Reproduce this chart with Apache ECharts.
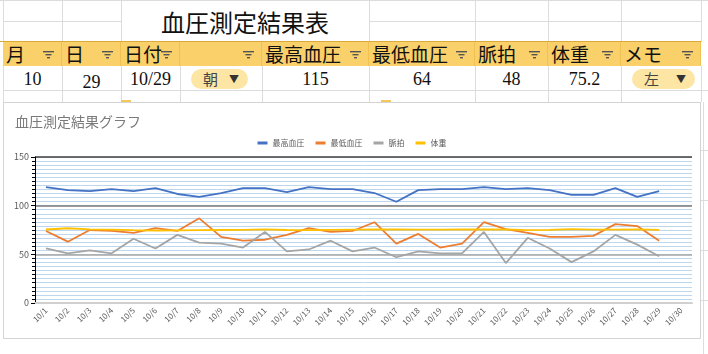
<!DOCTYPE html>
<html>
<head>
<meta charset="utf-8">
<title>血圧測定結果グラフ</title>
<script src="https://cdn.jsdelivr.net/npm/echarts@6/dist/echarts.min.js"></script>
<style>
  body { margin:0; width:708px; height:354px; overflow:hidden; background:#fff; position:relative;
         font-family:"Noto Sans CJK JP", sans-serif; }
  .ln { position:absolute; background:#dcdcdc; }
  .cell { position:absolute; box-sizing:border-box; font-size:19px; color:#111; white-space:nowrap; }
  .hd { background:#f9d06a; top:42px; height:24px; line-height:23px; border-right:1px solid #f0c050; }
  .dt { top:66px; height:24px; line-height:26px; font-family:"Liberation Serif","Noto Sans CJK JP",serif; font-size:18px; text-align:center; }
  .flt { position:absolute; right:7px; top:9px; }
  .pill { position:absolute; top:3px; height:20px; line-height:20px; border-radius:10px; background:#fde6a4;
          font-family:"Noto Sans CJK JP"; font-size:15px; color:#444; text-align:left; padding-left:12px; box-sizing:border-box; }
  .pill span { position:absolute; right:9px; top:0; font-size:10px; color:#333; }
  #title { position:absolute; left:121px; width:248px; top:4px; text-align:center; font-size:24px; color:#111; }
  #chart { position:absolute; left:3px; top:102px; width:698px; height:237px; border:1px solid #d4d4d4; box-sizing:border-box; background:#fff; }
</style>
</head>
<body>
<div id="sheet"></div>
<div id="title">血圧測定結果表</div>
<div id="chart"></div>
<script type="text/javascript">
// 表のデータ
var headers = ['月', '日', '日付', '', '最高血圧', '最低血圧', '脈拍', '体重', 'メモ'];
var rowValues = ['10', '29', '10/29', '朝', '115', '64', '48', '75.2', '左'];

// グラフのデータ
var dates = ['10/1','10/2','10/3','10/4','10/5','10/6','10/7','10/8','10/9','10/10',
             '10/11','10/12','10/13','10/14','10/15','10/16','10/17','10/18','10/19','10/20',
             '10/21','10/22','10/23','10/24','10/25','10/26','10/27','10/28','10/29','10/30'];
var sysBP  = [119,116,115,117,115,118,112,109,113,118,118,114,119,117,117,113,104,116,117,117,119,117,118,116,111,111,118,109,115];
var diaBP  = [74,63,75,74,72,77,74,87,68,64,65,70,77,73,74,83,61,71,57,61,83,76,72,68,68,69,81,79,64];
var pulse  = [56,51,54,51,66,56,70,62,61,57,73,53,55,64,53,57,47,53,51,51,73,41,67,56,42,53,70,60,48];
var weight = [75.5,76.8,75.6,75.3,74.8,74.5,74.6,74.8,75.0,75.2,75.6,75.0,74.9,75.2,75.4,75.6,75.5,75.4,75.3,75.5,75.5,75.6,74.8,75.2,75.8,75.3,75.4,75.6,75.2];
var yTicks = [0, 50, 100, 150];

// 列の位置
var colX = [3, 62, 121, 180, 262, 369, 475, 548, 621, 701];

var sheet = document.getElementById('sheet');
var html = '';
// シートの罫線
for (var i = 0; i < colX.length; i++) {
  if (i == 3 || i == 4) continue;
  html += '<div class="ln" style="left:' + colX[i] + 'px;top:0;width:1px;height:42px"></div>';
}
html += '<div class="ln" style="left:3px;top:21px;width:118px;height:1px"></div>';
html += '<div class="ln" style="left:369px;top:21px;width:332px;height:1px"></div>';
html += '<div class="ln" style="left:3px;top:90px;width:705px;height:1px"></div>';
html += '<div class="ln" style="left:0;top:0;width:708px;height:1px"></div>';
for (var i = 0; i < colX.length; i++) {
  html += '<div class="ln" style="left:' + colX[i] + 'px;top:66px;width:1px;height:36px"></div>';
}
html += '<div class="ln" style="left:703px;top:102px;width:1px;height:252px"></div>';
html += '<div class="ln" style="left:701px;top:150px;width:7px;height:1px"></div>';
html += '<div class="ln" style="left:701px;top:200px;width:7px;height:1px"></div>';
html += '<div class="ln" style="left:701px;top:250px;width:7px;height:1px"></div>';
html += '<div class="ln" style="left:701px;top:300px;width:7px;height:1px"></div>';
html += '<div style="position:absolute;left:0;top:41px;width:701px;height:1px;background:#d9a93a"></div>';

var filt = '<svg class="flt" width="11" height="8"><rect x="0" y="0" width="11" height="1.4" fill="#555"/>' +
           '<rect x="2.5" y="3" width="6" height="1.4" fill="#555"/><rect x="4" y="6" width="3" height="1.4" fill="#555"/></svg>';
for (var i = 0; i < headers.length; i++) {
  var w = colX[i + 1] - colX[i];
  html += '<div class="cell hd" style="left:' + colX[i] + 'px;width:' + w + 'px;padding-left:3px">' + headers[i] + filt + '</div>';
  var v = rowValues[i];
  if (i == 3 || i == 8) {
    html += '<div class="cell dt" style="left:' + colX[i] + 'px;width:' + w + 'px">' +
            '<div class="pill" style="left:11px;width:' + (i == 3 ? 57 : 63) + 'px">' + v + '<span>▼</span></div></div>';
  } else {
    html += '<div class="cell dt" style="left:' + colX[i] + 'px;width:' + w + 'px;' + (i == 1 ? 'padding-top:3px' : '') + '">' + v + '</div>';
  }
}
// 次の行に少しだけ見える黄色
html += '<div style="position:absolute;left:121px;top:100px;width:10px;height:2px;background:#f4c85a"></div>';
html += '<div style="position:absolute;left:381px;top:100px;width:10px;height:2px;background:#f4c85a"></div>';
sheet.innerHTML = html;

var myChart = echarts.init(document.getElementById('chart'));
var yMin = yTicks[0], yMax = yTicks[yTicks.length - 1];
var option = {
  animation: false,
  textStyle: { fontFamily: 'Noto Sans CJK JP' },
  title: {
    text: '血圧測定結果グラフ',
    left: 6, top: 7,
    textStyle: { fontSize: 14, fontWeight: 'normal', color: '#7a7a7a' }
  },
  legend: {
    top: 31, left: 'center',
    itemWidth: 10, itemHeight: 3, itemGap: 11,
    icon: 'rect',
    textStyle: { fontSize: 8, color: '#595959' },
    data: ['最高血圧', '最低血圧', '脈拍', '体重']
  },
  grid: { left: 31, right: 8, top: 54, bottom: 35 },
  xAxis: {
    type: 'category',
    data: dates,
    boundaryGap: true,
    axisLine: { lineStyle: { color: '#d0d0d0', width: 2 } },
    axisTick: { show: false },
    axisLabel: { rotate: 45, fontSize: 8, color: '#595959', margin: 6, interval: 0 }
  },
  yAxis: [
    {
      // 補助目盛線だけ (隠し軸)
      type: 'value', min: yMin, max: yMax, interval: 150 / 36, position: 'left',
      axisLine: { show: false }, axisTick: { show: false }, axisLabel: { show: false },
      splitLine: { show: true, lineStyle: { color: '#bdd7ee', width: 1 } }
    },
    {
      type: 'value', min: yMin, max: yMax, interval: 50, position: 'left',
      axisLine: { show: true, lineStyle: { color: '#000', width: 1 } },
      axisTick: { show: true, length: 4, lineStyle: { color: '#000' } },
      minorTick: { show: true, splitNumber: 12, length: 3, lineStyle: { color: '#000' } },
      axisLabel: { fontSize: 9, color: '#595959', margin: 6 },
      splitLine: { lineStyle: { color: ['#d0d0d0', '#a6a6a6', '#7a7a7a', '#404040'], width: 1.5 } }
    }
  ],
  series: [
    { name: '最高血圧', type: 'line', data: sysBP, showSymbol: false, lineStyle: { width: 1.8 }, itemStyle: { color: '#4472c4' } },
    { name: '最低血圧', type: 'line', data: diaBP, showSymbol: false, lineStyle: { width: 1.8 }, itemStyle: { color: '#ed7d31' } },
    { name: '脈拍', type: 'line', data: pulse, showSymbol: false, lineStyle: { width: 1.8 }, itemStyle: { color: '#a5a5a5' } },
    { name: '体重', type: 'line', data: weight, showSymbol: false, lineStyle: { width: 1.8 }, itemStyle: { color: '#ffc000' } }
  ]
};
myChart.setOption(option);
</script>
</body>
</html>
